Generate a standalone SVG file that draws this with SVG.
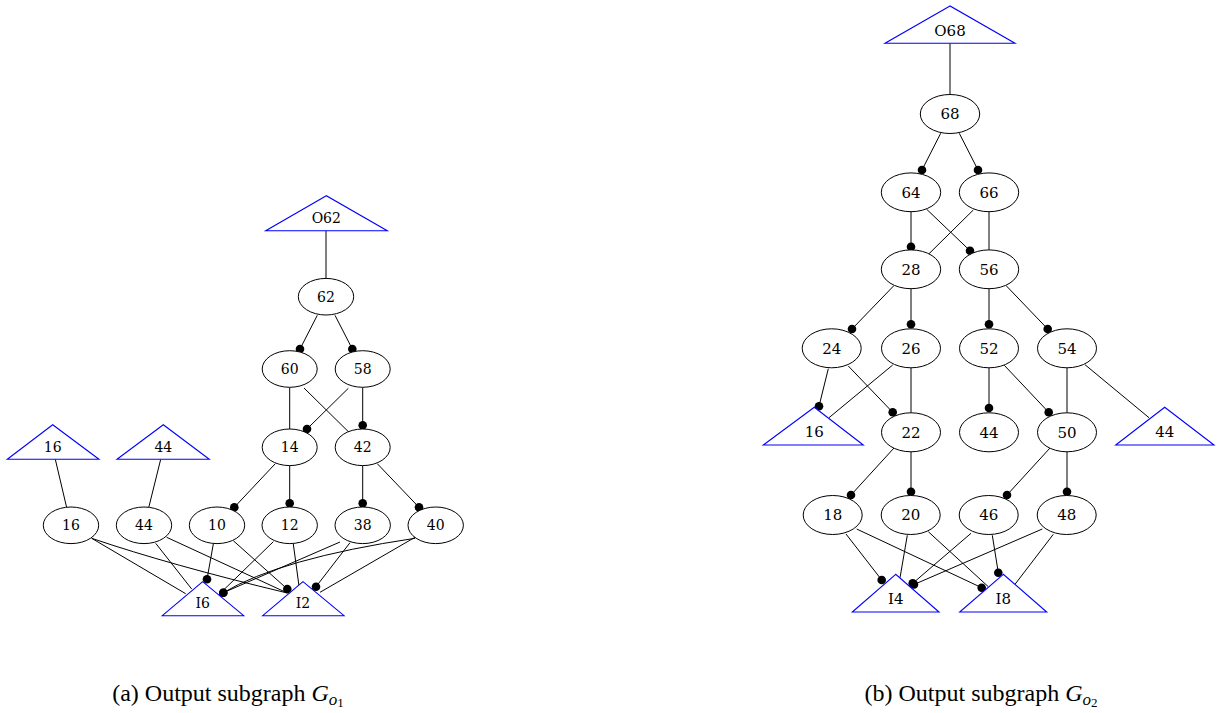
<svg xmlns="http://www.w3.org/2000/svg" width="1217" height="713" viewBox="0 0 1217 713">
<style>
  .el { fill: #fff; stroke: #000; stroke-width: 1; }
  .tri { fill: #fff; stroke: #0000ff; stroke-width: 1.1; }
  .lbl { font-family: "DejaVu Serif", serif; font-size: 14px; fill: #000; text-anchor: middle; }
  .lblr { font-family: "DejaVu Serif", serif; font-size: 15px; fill: #000; text-anchor: middle; }
  .e { fill: none; stroke: #000; stroke-width: 1; }
  .d { marker-end: url(#dot); }
  .cap { font-family: "Liberation Serif", "Times New Roman", serif; font-size: 24px; fill: #000; text-anchor: middle; }
</style>
<defs>
  <marker id="dot" markerWidth="10" markerHeight="10" refX="5" refY="5" markerUnits="userSpaceOnUse" orient="0">
    <circle cx="5" cy="5" r="4.3" fill="#000"/>
  </marker>
</defs>
<rect width="1217" height="713" fill="#fff"/>

<g id="connectors">
  <!-- left graph -->
  <line class="e" x1="326" y1="230.7" x2="326" y2="278.4"/>
  <line class="e d" x1="317.3" y1="315.3" x2="300" y2="349"/>
  <line class="e d" x1="335" y1="315.3" x2="352.3" y2="349"/>
  <line class="e" x1="289.7" y1="387.3" x2="289.7" y2="429.3"/>
  <line class="e d" x1="348.3" y1="388.3" x2="307" y2="429"/>
  <line class="e" x1="304" y1="388" x2="349" y2="432.3"/>
  <line class="e d" x1="362.7" y1="387.3" x2="362.7" y2="425.3"/>
  <line class="e" x1="55.3" y1="459.3" x2="66.7" y2="507.7"/>
  <line class="e" x1="160.7" y1="459.3" x2="148.7" y2="507.7"/>
  <line class="e d" x1="275.3" y1="463.7" x2="234.3" y2="507.3"/>
  <line class="e d" x1="289.7" y1="465.3" x2="289.7" y2="503.3"/>
  <line class="e d" x1="362.7" y1="465.3" x2="362.7" y2="503.3"/>
  <line class="e d" x1="377.3" y1="463.7" x2="419" y2="507.3"/>
  <line class="e" x1="91.7" y1="538.3" x2="185.7" y2="593.7"/>
  <path class="e" d="M91.7,538.3 Q170,565 287.3,593"/>
  <line class="e" x1="155.7" y1="543.3" x2="191.7" y2="589"/>
  <line class="e" x1="166.7" y1="537.3" x2="287.3" y2="593"/>
  <line class="e d" x1="213.3" y1="544" x2="207" y2="579.3"/>
  <line class="e d" x1="233.3" y1="540.7" x2="287.3" y2="589"/>
  <line class="e" x1="273.3" y1="541.7" x2="216.7" y2="596.7"/>
  <line class="e" x1="293.3" y1="544" x2="299" y2="586"/>
  <line class="e d" x1="340" y1="542" x2="223.3" y2="592.7"/>
  <line class="e d" x1="350" y1="542.7" x2="316" y2="586.7"/>
  <path class="e d" d="M415,538.3 Q280,558.5 223.3,592.7"/>
  <line class="e" x1="415" y1="537.3" x2="320" y2="592.3"/>

  <!-- right graph -->
  <line class="e" x1="950" y1="43.3" x2="950" y2="94.5"/>
  <line class="e d" x1="940.7" y1="133.3" x2="922" y2="170"/>
  <line class="e d" x1="959.3" y1="133.3" x2="978" y2="170"/>
  <line class="e d" x1="911" y1="211.6" x2="911" y2="246.7"/>
  <line class="e d" x1="926.7" y1="209.3" x2="970" y2="250.7"/>
  <line class="e" x1="973.3" y1="210" x2="926.7" y2="256"/>
  <line class="e" x1="989" y1="211.8" x2="989" y2="249.8"/>
  <line class="e d" x1="894" y1="285.5" x2="852" y2="329"/>
  <line class="e d" x1="911" y1="288.8" x2="911" y2="324.3"/>
  <line class="e d" x1="989" y1="288.8" x2="989" y2="324.3"/>
  <line class="e d" x1="1006" y1="285.5" x2="1047.7" y2="329"/>
  <line class="e d" x1="828.3" y1="368.7" x2="819" y2="406.3"/>
  <line class="e d" x1="848.3" y1="366" x2="892.7" y2="412.3"/>
  <line class="e" x1="892.7" y1="365" x2="829" y2="417.7"/>
  <line class="e" x1="911" y1="367.8" x2="911" y2="412.8"/>
  <line class="e d" x1="989" y1="367.8" x2="989" y2="408"/>
  <line class="e d" x1="1004.3" y1="365.3" x2="1048.7" y2="412.3"/>
  <line class="e" x1="1067" y1="367.8" x2="1067" y2="412.8"/>
  <line class="e" x1="1085" y1="364.7" x2="1149" y2="417.7"/>
  <line class="e d" x1="894" y1="448" x2="851" y2="495"/>
  <line class="e d" x1="911" y1="451.8" x2="911" y2="491.7"/>
  <line class="e d" x1="1050" y1="448" x2="1007" y2="495"/>
  <line class="e d" x1="1067" y1="451.8" x2="1067" y2="491.7"/>
  <line class="e d" x1="846" y1="534" x2="881.7" y2="580"/>
  <line class="e d" x1="856.7" y1="529" x2="981.7" y2="587.7"/>
  <line class="e" x1="907.3" y1="535.3" x2="900" y2="577.7"/>
  <line class="e" x1="928.3" y1="531.7" x2="988.3" y2="586.7"/>
  <line class="e d" x1="971" y1="533.3" x2="912.7" y2="583.3"/>
  <line class="e d" x1="992.3" y1="535.3" x2="998.3" y2="572.7"/>
  <line class="e d" x1="1042.3" y1="529" x2="914" y2="584.5"/>
  <line class="e" x1="1053.3" y1="534.3" x2="1015" y2="584.3"/>
</g>

<!-- left graph nodes -->
<g id="a-O62"><polygon class="tri" points="326.3,195.7 265.7,230.7 387.3,230.7"/><text class="lbl" x="326.3" y="223">O62</text></g>
<g id="a-62"><ellipse class="el" cx="326" cy="296.7" rx="27.7" ry="18.3"/><text class="lbl" x="326" y="301.7">62</text></g>
<g id="a-60"><ellipse class="el" cx="289.7" cy="369" rx="27.5" ry="18.3"/><text class="lbl" x="289.7" y="374">60</text></g>
<g id="a-58"><ellipse class="el" cx="362.7" cy="369" rx="27.5" ry="18.3"/><text class="lbl" x="362.7" y="374">58</text></g>
<g id="a-14"><ellipse class="el" cx="289.7" cy="447.3" rx="27.5" ry="18.3"/><text class="lbl" x="289.7" y="452.3">14</text></g>
<g id="a-42"><ellipse class="el" cx="362.7" cy="447.3" rx="27.5" ry="18.3"/><text class="lbl" x="362.7" y="452.3">42</text></g>
<g id="a-T16"><polygon class="tri" points="52.7,424.7 7.3,459.3 99,459.3"/><text class="lbl" x="52.7" y="452">16</text></g>
<g id="a-T44"><polygon class="tri" points="163.3,424.7 117,459.3 209.3,459.3"/><text class="lbl" x="163.3" y="452">44</text></g>
<g id="a-16"><ellipse class="el" cx="71" cy="525.3" rx="27.7" ry="18.3"/><text class="lbl" x="71" y="530.3">16</text></g>
<g id="a-44"><ellipse class="el" cx="144" cy="525.3" rx="27.7" ry="18.3"/><text class="lbl" x="144" y="530.3">44</text></g>
<g id="a-10"><ellipse class="el" cx="217" cy="525.3" rx="27.7" ry="18.3"/><text class="lbl" x="217" y="530.3">10</text></g>
<g id="a-12"><ellipse class="el" cx="289.7" cy="525.3" rx="27.7" ry="18.3"/><text class="lbl" x="289.7" y="530.3">12</text></g>
<g id="a-38"><ellipse class="el" cx="362.7" cy="525.3" rx="27.7" ry="18.3"/><text class="lbl" x="362.7" y="530.3">38</text></g>
<g id="a-40"><ellipse class="el" cx="435.7" cy="525.3" rx="27.7" ry="18.3"/><text class="lbl" x="435.7" y="530.3">40</text></g>
<g id="a-I6"><polygon class="tri" points="202.7,581.7 162.3,615.7 243.7,615.7"/><text class="lbl" x="202.7" y="608">I6</text></g>
<g id="a-I2"><polygon class="tri" points="303,581.7 262.7,615.7 344,615.7"/><text class="lbl" x="303" y="608">I2</text></g>

<!-- right graph nodes -->
<g id="b-O68"><polygon class="tri" points="950,6 885,43.3 1015,43.3"/><text class="lblr" x="950" y="35.5">O68</text></g>
<g id="b-68"><ellipse class="el" cx="950" cy="114" rx="29.7" ry="19.5"/><text class="lblr" x="950" y="119.3">68</text></g>
<g id="b-64"><ellipse class="el" cx="911" cy="192.3" rx="29.7" ry="19.4"/><text class="lblr" x="911" y="197.6">64</text></g>
<g id="b-66"><ellipse class="el" cx="989" cy="192.3" rx="29.7" ry="19.4"/><text class="lblr" x="989" y="197.6">66</text></g>
<g id="b-28"><ellipse class="el" cx="911" cy="269.3" rx="29.7" ry="19.4"/><text class="lblr" x="911" y="274.6">28</text></g>
<g id="b-56"><ellipse class="el" cx="989" cy="269.3" rx="29.7" ry="19.4"/><text class="lblr" x="989" y="274.6">56</text></g>
<g id="b-24"><ellipse class="el" cx="831.7" cy="348.3" rx="29.5" ry="19.5"/><text class="lblr" x="831.7" y="353.6">24</text></g>
<g id="b-26"><ellipse class="el" cx="911" cy="348.3" rx="29.5" ry="19.5"/><text class="lblr" x="911" y="353.6">26</text></g>
<g id="b-52"><ellipse class="el" cx="989" cy="348.3" rx="29.5" ry="19.5"/><text class="lblr" x="989" y="353.6">52</text></g>
<g id="b-54"><ellipse class="el" cx="1067" cy="348.3" rx="29.5" ry="19.5"/><text class="lblr" x="1067" y="353.6">54</text></g>
<g id="b-T16"><polygon class="tri" points="814.3,407.3 763.3,445 863.3,445"/><text class="lblr" x="814.3" y="437">16</text></g>
<g id="b-22"><ellipse class="el" cx="911" cy="432.3" rx="29.5" ry="19.5"/><text class="lblr" x="911" y="437.6">22</text></g>
<g id="b-44"><ellipse class="el" cx="989" cy="432.3" rx="29.5" ry="19.5"/><text class="lblr" x="989" y="437.6">44</text></g>
<g id="b-50"><ellipse class="el" cx="1067" cy="432.3" rx="29.5" ry="19.5"/><text class="lblr" x="1067" y="437.6">50</text></g>
<g id="b-T44"><polygon class="tri" points="1164.7,407.3 1115.7,445 1214,445"/><text class="lblr" x="1164.7" y="437">44</text></g>
<g id="b-18"><ellipse class="el" cx="832.7" cy="515" rx="29.5" ry="19.5"/><text class="lblr" x="832.7" y="520.3">18</text></g>
<g id="b-20"><ellipse class="el" cx="910.7" cy="515" rx="29.5" ry="19.5"/><text class="lblr" x="910.7" y="520.3">20</text></g>
<g id="b-46"><ellipse class="el" cx="988.7" cy="515" rx="29.5" ry="19.5"/><text class="lblr" x="988.7" y="520.3">46</text></g>
<g id="b-48"><ellipse class="el" cx="1066.7" cy="515" rx="29.5" ry="19.5"/><text class="lblr" x="1066.7" y="520.3">48</text></g>
<g id="b-I4"><polygon class="tri" points="895.7,574.3 852.3,612 939,612"/><text class="lblr" x="895.7" y="603.5">I4</text></g>
<g id="b-I8"><polygon class="tri" points="1003.3,574.3 959.7,612 1046.7,612"/><text class="lblr" x="1003.3" y="603.5">I8</text></g>

<!-- captions -->
<g id="captions">
  <text class="cap" x="228" y="701">(a) Output subgraph <tspan font-style="italic">G</tspan><tspan font-style="italic" font-size="17" dy="4">o</tspan><tspan font-size="13" dy="2">1</tspan></text>
  <text class="cap" x="981" y="701">(b) Output subgraph <tspan font-style="italic">G</tspan><tspan font-style="italic" font-size="17" dy="4">o</tspan><tspan font-size="13" dy="2">2</tspan></text>
</g>
</svg>
